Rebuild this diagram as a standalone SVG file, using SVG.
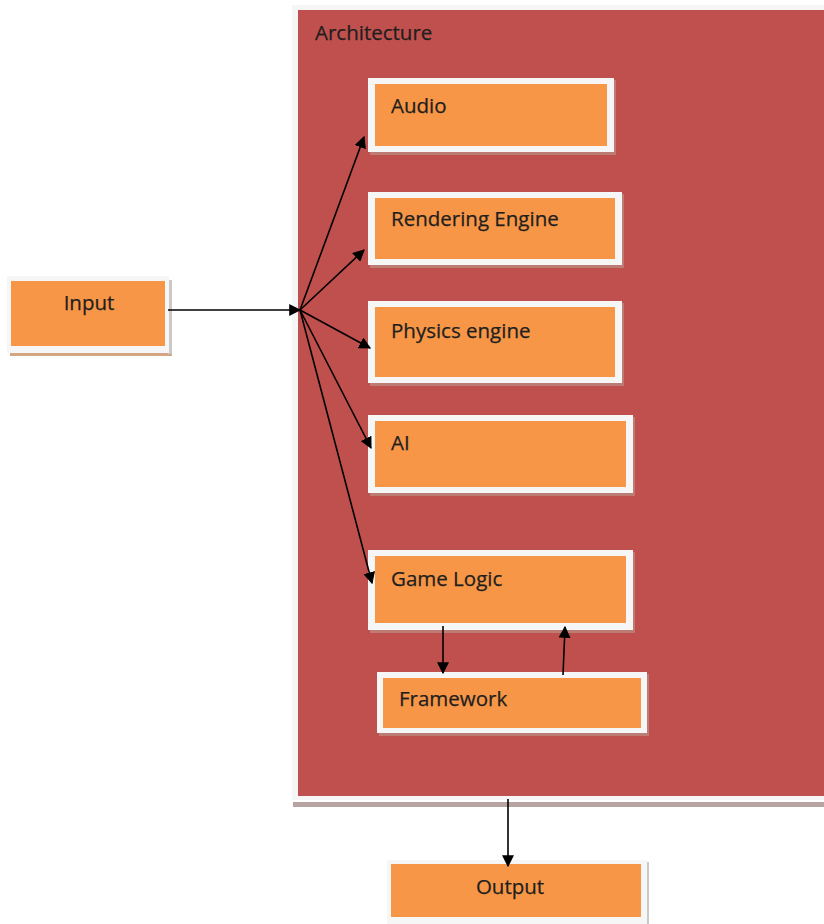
<svg xmlns="http://www.w3.org/2000/svg" width="824" height="924" viewBox="0 0 824 924">
<style>
.frame{fill:#f6f6f6}
.fill{fill:#f79646}
.shadow{fill:#b99a90;opacity:0.6}
.lbl{font-family:"Open Sans","Liberation Sans",sans-serif;font-size:20.5px;fill:#1e1e1e;stroke:#1e1e1e;stroke-width:0.25}
.edge{stroke:#000;stroke-width:1.6;fill:none}
</style>
<defs>
<marker id="ah" viewBox="0 0 10 10" refX="9" refY="5" markerWidth="12" markerHeight="12" markerUnits="userSpaceOnUse" orient="auto">
<path d="M0,0 L10,5 L0,10 z" fill="#000"/>
</marker>
</defs>
<rect width="824" height="924" fill="#fff"/>

<g id="architecture">
<rect x="293" y="802" width="531" height="5" fill="#b8a3a3"/>
<rect class="frame" x="292" y="5" width="532" height="795"/>
<rect x="298" y="10" width="526" height="786" fill="#c0504d"/>
<text class="lbl" x="315" y="40">Architecture</text>
</g>

<g id="input">
<rect x="10" y="352" width="162" height="4" fill="#d4a583"/>
<rect x="168" y="280" width="4" height="74" fill="#c9c9c9"/>
<rect class="frame" x="7" y="276" width="162" height="77"/>
<rect class="fill" x="11" y="281" width="154" height="65"/>
<text class="lbl" x="89" y="310" text-anchor="middle">Input</text>
</g>

<g id="audio">
<rect class="shadow" x="370" y="80" width="246" height="75"/>
<rect class="frame" x="368" y="78" width="246" height="74"/>
<rect class="fill" x="375" y="84" width="232" height="62"/>
<text class="lbl" x="391" y="113">Audio</text>
</g>

<g id="rendering">
<rect class="shadow" x="370" y="194" width="254" height="74"/>
<rect class="frame" x="368" y="192" width="254" height="73"/>
<rect class="fill" x="375" y="198" width="240" height="61"/>
<text class="lbl" x="391" y="226">Rendering Engine</text>
</g>

<g id="physics">
<rect class="shadow" x="370" y="303" width="254" height="83"/>
<rect class="frame" x="368" y="301" width="254" height="82"/>
<rect class="fill" x="375" y="307" width="240" height="70"/>
<text class="lbl" x="391" y="338">Physics engine</text>
</g>

<g id="ai">
<rect class="shadow" x="370" y="417" width="265" height="79"/>
<rect class="frame" x="368" y="415" width="265" height="78"/>
<rect class="fill" x="375" y="421" width="251" height="66"/>
<text class="lbl" x="391" y="450">AI</text>
</g>

<g id="gamelogic">
<rect class="shadow" x="370" y="552" width="265" height="81"/>
<rect class="frame" x="368" y="550" width="265" height="80"/>
<rect class="fill" x="375" y="556" width="251" height="67"/>
<text class="lbl" x="391" y="586">Game Logic</text>
</g>

<g id="framework">
<rect class="shadow" x="379" y="674" width="270" height="62"/>
<rect class="frame" x="377" y="672" width="270" height="61"/>
<rect class="fill" x="383" y="678" width="258" height="50"/>
<text class="lbl" x="399" y="706">Framework</text>
</g>

<g id="output">
<rect x="645" y="862" width="4" height="62" fill="#c9c9c9"/>
<rect class="frame" x="387" y="860" width="260" height="64"/>
<rect class="fill" x="391" y="864" width="250" height="53"/>
<text class="lbl" x="510" y="894" text-anchor="middle">Output</text>
</g>

<g id="connectors">
<line class="edge" x1="168" y1="310" x2="300" y2="310" marker-end="url(#ah)"/>
<line class="edge" x1="300" y1="310" x2="364" y2="137" marker-end="url(#ah)"/>
<line class="edge" x1="300" y1="310" x2="364" y2="250" marker-end="url(#ah)"/>
<line class="edge" x1="300" y1="310" x2="370" y2="348" marker-end="url(#ah)"/>
<line class="edge" x1="300" y1="310" x2="371" y2="448" marker-end="url(#ah)"/>
<line class="edge" x1="300" y1="310" x2="372" y2="583" marker-end="url(#ah)"/>
<line class="edge" x1="443" y1="626" x2="443" y2="673" marker-end="url(#ah)"/>
<line class="edge" x1="563" y1="675" x2="565" y2="627" marker-end="url(#ah)"/>
<line class="edge" x1="508" y1="799" x2="508" y2="866" marker-end="url(#ah)"/>
</g>
</svg>
